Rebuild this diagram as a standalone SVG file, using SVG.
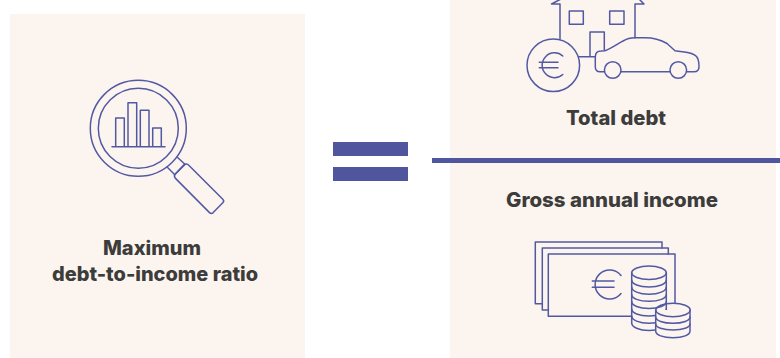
<svg xmlns="http://www.w3.org/2000/svg" width="780" height="358" viewBox="0 0 780 358">
<style>
.panel{fill:#fcf4ef}
.bar{fill:#4f569e}
.i{fill:none;stroke:#5259a3;stroke-width:1.5;stroke-linejoin:round;stroke-linecap:round}
.f{fill:#fcf4ef}
text{font-family:"Inter","Liberation Sans",sans-serif;font-weight:800;font-size:20px;fill:#3c3c3b;text-anchor:middle}
</style>
<rect width="780" height="358" fill="#fff"/>
<g id="panel-ratio">
<rect class="panel" x="10" y="14" width="295" height="344"/>
<g class="i">
<circle cx="138.3" cy="128.3" r="48"/>
<circle cx="138.3" cy="128.3" r="40"/>
<path d="M112 146.7H165M115.7 146.7V118H124.3V146.7M128 146.7V102.7H136.7V146.7M140.3 146.7V110.3H149V146.7M152.7 146.7V128H161.3V146.7"/>
<path d="M177.3 157.3L185 164.3M167.3 167.3L174.3 174.3M174.5 175L185 164.5"/>
<path d="M183.5 165.2Q186.7 162.8 189 165.5L222.8 199.2Q224.6 201 222.8 202.8L213.2 212.6Q211.3 214.4 209.5 212.6L175.5 178.4Q173.4 175.8 175.2 174Z"/>
</g>
<text x="152" y="255" textLength="98" lengthAdjust="spacingAndGlyphs">Maximum</text>
<text x="155" y="281" textLength="206" lengthAdjust="spacingAndGlyphs">debt-to-income ratio</text>
</g>
<g id="equals">
<rect class="bar" x="333" y="142" width="75" height="14"/>
<rect class="bar" x="333" y="167" width="75" height="14"/>
</g>
<g id="panel-fraction">
<rect class="panel" x="450" y="0" width="326" height="358"/>
<g class="i">
<path d="M560 39V4H551.5L560 -.5M635 37.7V4H644L639.5 -.5"/>
<rect x="569.3" y="11" width="14" height="13.3"/>
<rect x="609.7" y="11" width="14.3" height="13.3"/>
<path d="M590 56.7V32H604.3V50M578.3 56.7H595.3"/>
<circle cx="553.3" cy="65.3" r="26.3"/>
<path d="M562.8 56A12.4 12.4 0 1 0 562.8 74.5M539.3 62.3H558M539.3 67.7H558"/>
<path d="M604 71.7H600Q595.3 71.7 595.3 66.7V57Q595.3 51 601 51L605 50.7C613 47.5 619 42.8 623 41C627 38.5 631 37.7 635 37.7H645C655 37.7 662 40.5 667 43.5L675 50.7C684 52.5 692 51.5 696.5 56.5C699 59.5 699 63 699 66.7Q699 71.7 694 71.7H686.7M621 71.7H670"/>
<circle cx="612.7" cy="70" r="8.3"/>
<circle cx="678.3" cy="70" r="8.3"/>
</g>
<text x="616" y="124.500" textLength="100" lengthAdjust="spacingAndGlyphs">Total debt</text>
<text x="612" y="206.500" textLength="212" lengthAdjust="spacingAndGlyphs">Gross annual income</text>
<g class="i">
<path d="M542.3 303.7H535.3V242H662V248"/>
<path d="M548.3 310H542.3V248H668.3V254"/>
<path d="M631.7 316.3H548.3V254H675V303.3"/>
<path d="M621 275.500A14.500 14.500 0 1 0 621 293.500M592.3 281H614M592.3 287.3H614"/>
<path class="f" d="M631.7 272.7V323C631.7 327 639 330.500 649 330.500S666.3 327 666.3 323V272.7"/>
<ellipse cx="649" cy="272.7" rx="17.3" ry="6.7"/>
<path d="M631.7 280C631.7 284 639 287 649 287S666.3 284 666.3 280M631.7 287C631.7 291 639 294.3 649 294.3S666.3 291 666.3 287M631.7 294.500C631.7 298.500 639 301.3 649 301.3S666.3 298.500 666.3 294.500M631.7 301.500C631.7 305.500 639 308.500 649 308.500S666.3 305.500 666.3 301.500M631.7 309C631.7 313 639 316 649 316S666.3 313 666.3 309M631.7 316C631.7 320 639 323.3 649 323.3S666.3 320 666.3 316"/>
<path class="f" d="M655.7 310V331C655.7 335 663 337.7 673 337.7S690 335 690 331V310"/>
<ellipse cx="673" cy="310" rx="17.2" ry="6.7"/>
<path d="M655.7 317C655.7 320.500 663 323.3 673 323.3S690 320.500 690 317M655.7 324C655.7 327.500 663 330 673 330S690 327.500 690 324"/>
</g>
</g>
<g id="fraction-line">
<rect class="bar" x="432" y="158" width="348" height="5"/>
</g>
</svg>
